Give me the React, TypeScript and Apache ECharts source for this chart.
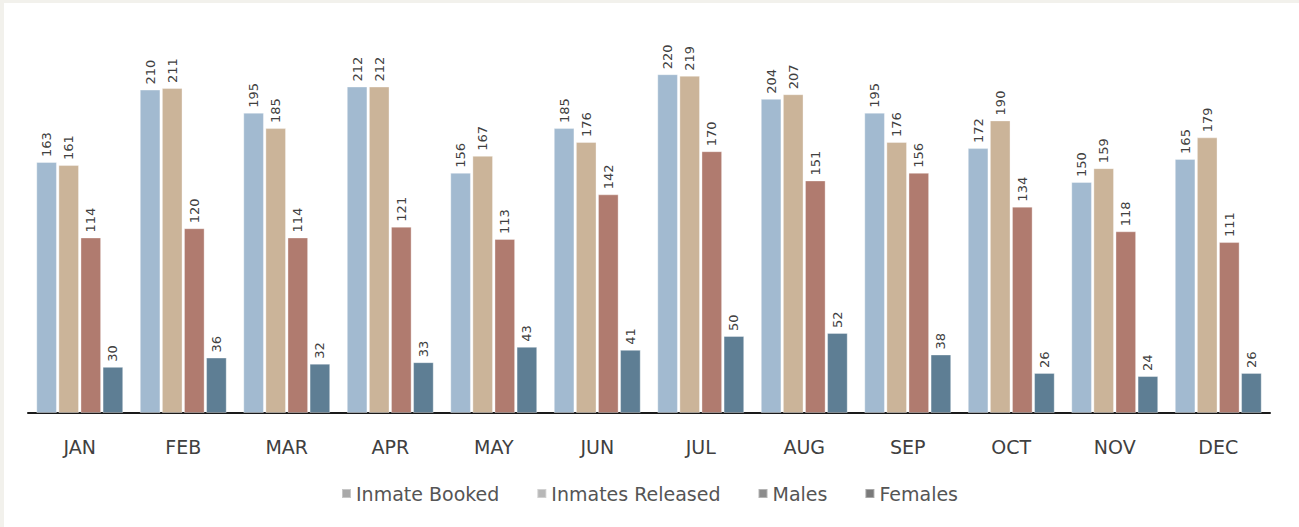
import React, { useEffect, useRef } from "react";
import * as echarts from "echarts";

const months = ["JAN", "FEB", "MAR", "APR", "MAY", "JUN", "JUL", "AUG", "SEP", "OCT", "NOV", "DEC"];
const inmateBooked = [163, 210, 195, 212, 156, 185, 220, 204, 195, 172, 150, 165];
const inmatesReleased = [161, 211, 185, 212, 167, 176, 219, 207, 176, 190, 159, 179];
const males = [114, 120, 114, 121, 113, 142, 170, 151, 156, 134, 118, 111];
const females = [30, 36, 32, 33, 43, 41, 50, 52, 38, 26, 24, 26];

const seriesDefs = [
  { name: "Inmate Booked", data: inmateBooked, color: "#a2bad0", legendColor: "#a9a9a9" },
  { name: "Inmates Released", data: inmatesReleased, color: "#cbb499", legendColor: "#b8b8b8" },
  { name: "Males", data: males, color: "#b07b6f", legendColor: "#8c8c8c" },
  { name: "Females", data: females, color: "#5e7e94", legendColor: "#7a7a7a" },
];

const FONT = "'DejaVu Sans', 'Noto Sans', sans-serif";

export default function App() {
  const ref = useRef<HTMLDivElement>(null);

  useEffect(() => {
    if (!ref.current) return;
    const chart = echarts.init(ref.current, null, { renderer: "svg" });
    chart.setOption({
      animation: false,
      backgroundColor: "#ffffff",
      graphic: [
        { type: "rect", left: 0, top: 0, shape: { width: 4, height: 527 }, style: { fill: "#f2f1ec" } },
        { type: "rect", left: 0, top: 0, shape: { width: 1299, height: 3 }, style: { fill: "#f2f1ec" } },
      ],
      grid: { left: 28, right: 29, top: 28, bottom: 114 },
      legend: {
        bottom: 19,
        left: "center",
        icon: "rect",
        itemWidth: 9,
        itemHeight: 9,
        itemGap: 37,
        textStyle: { fontFamily: FONT, fontSize: 19, color: "#555555" },
        data: seriesDefs.map((s) => ({ name: s.name, itemStyle: { color: s.legendColor } })),
      },
      xAxis: {
        type: "category",
        data: months,
        axisLine: { show: true, lineStyle: { color: "#1a1a1a", width: 2 } },
        axisTick: { show: false },
        axisLabel: { fontFamily: FONT, fontSize: 19, color: "#404040", margin: 24 },
      },
      yAxis: {
        type: "value",
        min: 0,
        max: 250,
        show: false,
        splitLine: { show: false },
      },
      series: seriesDefs.map((s) => ({
        name: s.name,
        type: "bar",
        data: s.data,
        barGap: "7%",
        barCategoryGap: "16%",
        itemStyle: { color: s.color, borderColor: "rgba(255,255,255,0.35)", borderWidth: 1 },
        label: {
          show: true,
          position: "top",
          rotate: 90,
          align: "left",
          verticalAlign: "middle",
          distance: 5,
          fontFamily: FONT,
          fontSize: 13,
          color: "#404040",
        },
      })),
    });
    return () => chart.dispose();
  }, []);

  return (
    <div
      ref={ref}
      style={{ position: "fixed", left: 0, top: 0, width: 1299, height: 527 }}
    />
  );
}
